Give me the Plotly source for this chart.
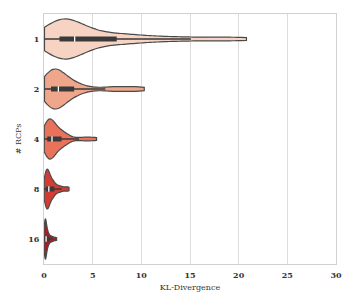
import numpy as np
import plotly.graph_objects as go

categories = ["1", "2", "4", "8", "16"]
colors = ["#f7d3c4", "#efa68a", "#e9735a", "#d23c33", "#a71c25"]

kl_1 = [0.05, 0.2, 0.4, 0.6, 0.8, 1.0, 1.15, 1.3, 1.45, 1.55,
        1.62, 1.7, 1.85, 2.0, 2.15, 2.3, 2.45, 2.6, 2.75, 2.85,
        2.95, 3.1, 3.2, 3.45, 3.7, 4.0, 4.3, 4.65, 5.0, 5.4,
        5.9, 6.5, 7.2, 7.6, 8.3, 9.0, 9.8, 10.8, 12.0, 13.4,
        15.1, 17.0, 18.9, 20.8]
kl_2 = [0.05, 0.15, 0.3, 0.45, 0.55, 0.62, 0.68, 0.72, 0.76, 0.78,
        0.80, 0.9, 1.0, 1.08, 1.15, 1.22, 1.28, 1.35, 1.4, 1.45,
        1.5, 1.6, 1.75, 1.9, 2.05, 2.2, 2.4, 2.6, 2.8, 2.95,
        3.1, 3.5, 4.0, 4.75, 6.3, 7.1, 7.9, 8.7, 9.5, 10.3]
kl_4 = [0.03, 0.1, 0.18, 0.24, 0.29, 0.33, 0.36, 0.38, 0.39, 0.4,
        0.41, 0.46, 0.52, 0.57, 0.62, 0.66, 0.7, 0.74, 0.78, 0.8,
        0.84, 0.9, 0.98, 1.06, 1.15, 1.25, 1.35, 1.45, 1.55, 1.68,
        1.78, 1.9, 2.05, 2.2, 2.4, 2.6, 3.6, 4.2, 4.8, 5.4]
kl_8 = [0.02, 0.06, 0.1, 0.14, 0.17, 0.2, 0.22, 0.24, 0.25, 0.26,
        0.27, 0.3, 0.33, 0.36, 0.38, 0.4, 0.42, 0.44, 0.46, 0.48,
        0.51, 0.55, 0.6, 0.65, 0.7, 0.75, 0.8, 0.85, 0.9, 0.96,
        1.02, 1.1, 1.2, 1.35, 1.5, 1.65, 1.8, 2.1, 2.35, 2.57]
kl_16 = [0.01, 0.03, 0.05, 0.06, 0.07, 0.08, 0.09, 0.1, 0.11, 0.12,
         0.12, 0.13, 0.14, 0.15, 0.16, 0.17, 0.18, 0.19, 0.2, 0.21,
         0.22, 0.24, 0.26, 0.28, 0.3, 0.32, 0.35, 0.38, 0.41, 0.44,
         0.47, 0.52, 0.58, 0.65, 0.72, 0.8, 0.9, 1.0, 1.15, 1.3]
series = [kl_1, kl_2, kl_4, kl_8, kl_16]
bandwidths = [1.5, 0.9, 0.5, 0.2, 0.09]

x_ticks = [0, 5, 10, 15, 20, 25, 30]

fig = go.Figure()
for cat, vals, col, bw in zip(categories, series, colors, bandwidths):
    fig.add_trace(go.Violin(
        x=vals, y=[cat] * len(vals), orientation="h",
        fillcolor=col, opacity=1, line=dict(color="#4a4a4a", width=1.2),
        spanmode="hard", scalemode="width", width=0.8, bandwidth=bw,
        points=False, box_visible=True,
        box=dict(width=0.09, fillcolor="#3a3a3a", line=dict(color="#3a3a3a", width=1.4)),
        meanline_visible=False, hoverinfo="skip", showlegend=False,
    ))

fig.add_trace(go.Scatter(
    x=[float(np.median(v)) for v in series], y=categories, mode="markers",
    marker=dict(symbol="line-ns", size=4, line=dict(color="white", width=1.3)),
    hoverinfo="skip", showlegend=False,
))

fig.update_layout(
    width=357, height=306,
    margin=dict(l=36, r=29, t=6, b=50),
    paper_bgcolor="white", plot_bgcolor="white",
    violinmode="overlay",
    font=dict(family="DejaVu Serif", color="#333333", size=8),
)
fig.update_xaxes(
    range=[0, 30], tickvals=x_ticks, ticktext=[str(t) for t in x_ticks],
    showgrid=True, gridcolor="#dcdcdc", gridwidth=1, automargin=False,
    showline=True, mirror=True, linecolor="#d0d0d0", linewidth=1.2,
    zeroline=False, ticks="", ticklabelstandoff=3,
    tickfont=dict(family="DejaVu Serif", size=8, weight="bold", color="#333333"),
    title=dict(text="KL-Divergence", font=dict(family="DejaVu Serif", size=8, color="#333333"), standoff=5),
)
fig.update_yaxes(
    type="category", categoryorder="array", categoryarray=categories,
    range=[4.5, -0.5], automargin=False,
    showgrid=False, showline=True, mirror=True, linecolor="#d0d0d0", linewidth=1.2,
    zeroline=False, ticks="", ticklabelstandoff=2,
    tickfont=dict(family="DejaVu Serif", size=8, weight="bold", color="#333333"),
    title=dict(text="# RCPs", font=dict(family="DejaVu Serif", size=8, color="#333333"), standoff=5),
)

fig.write_html("out.html")
